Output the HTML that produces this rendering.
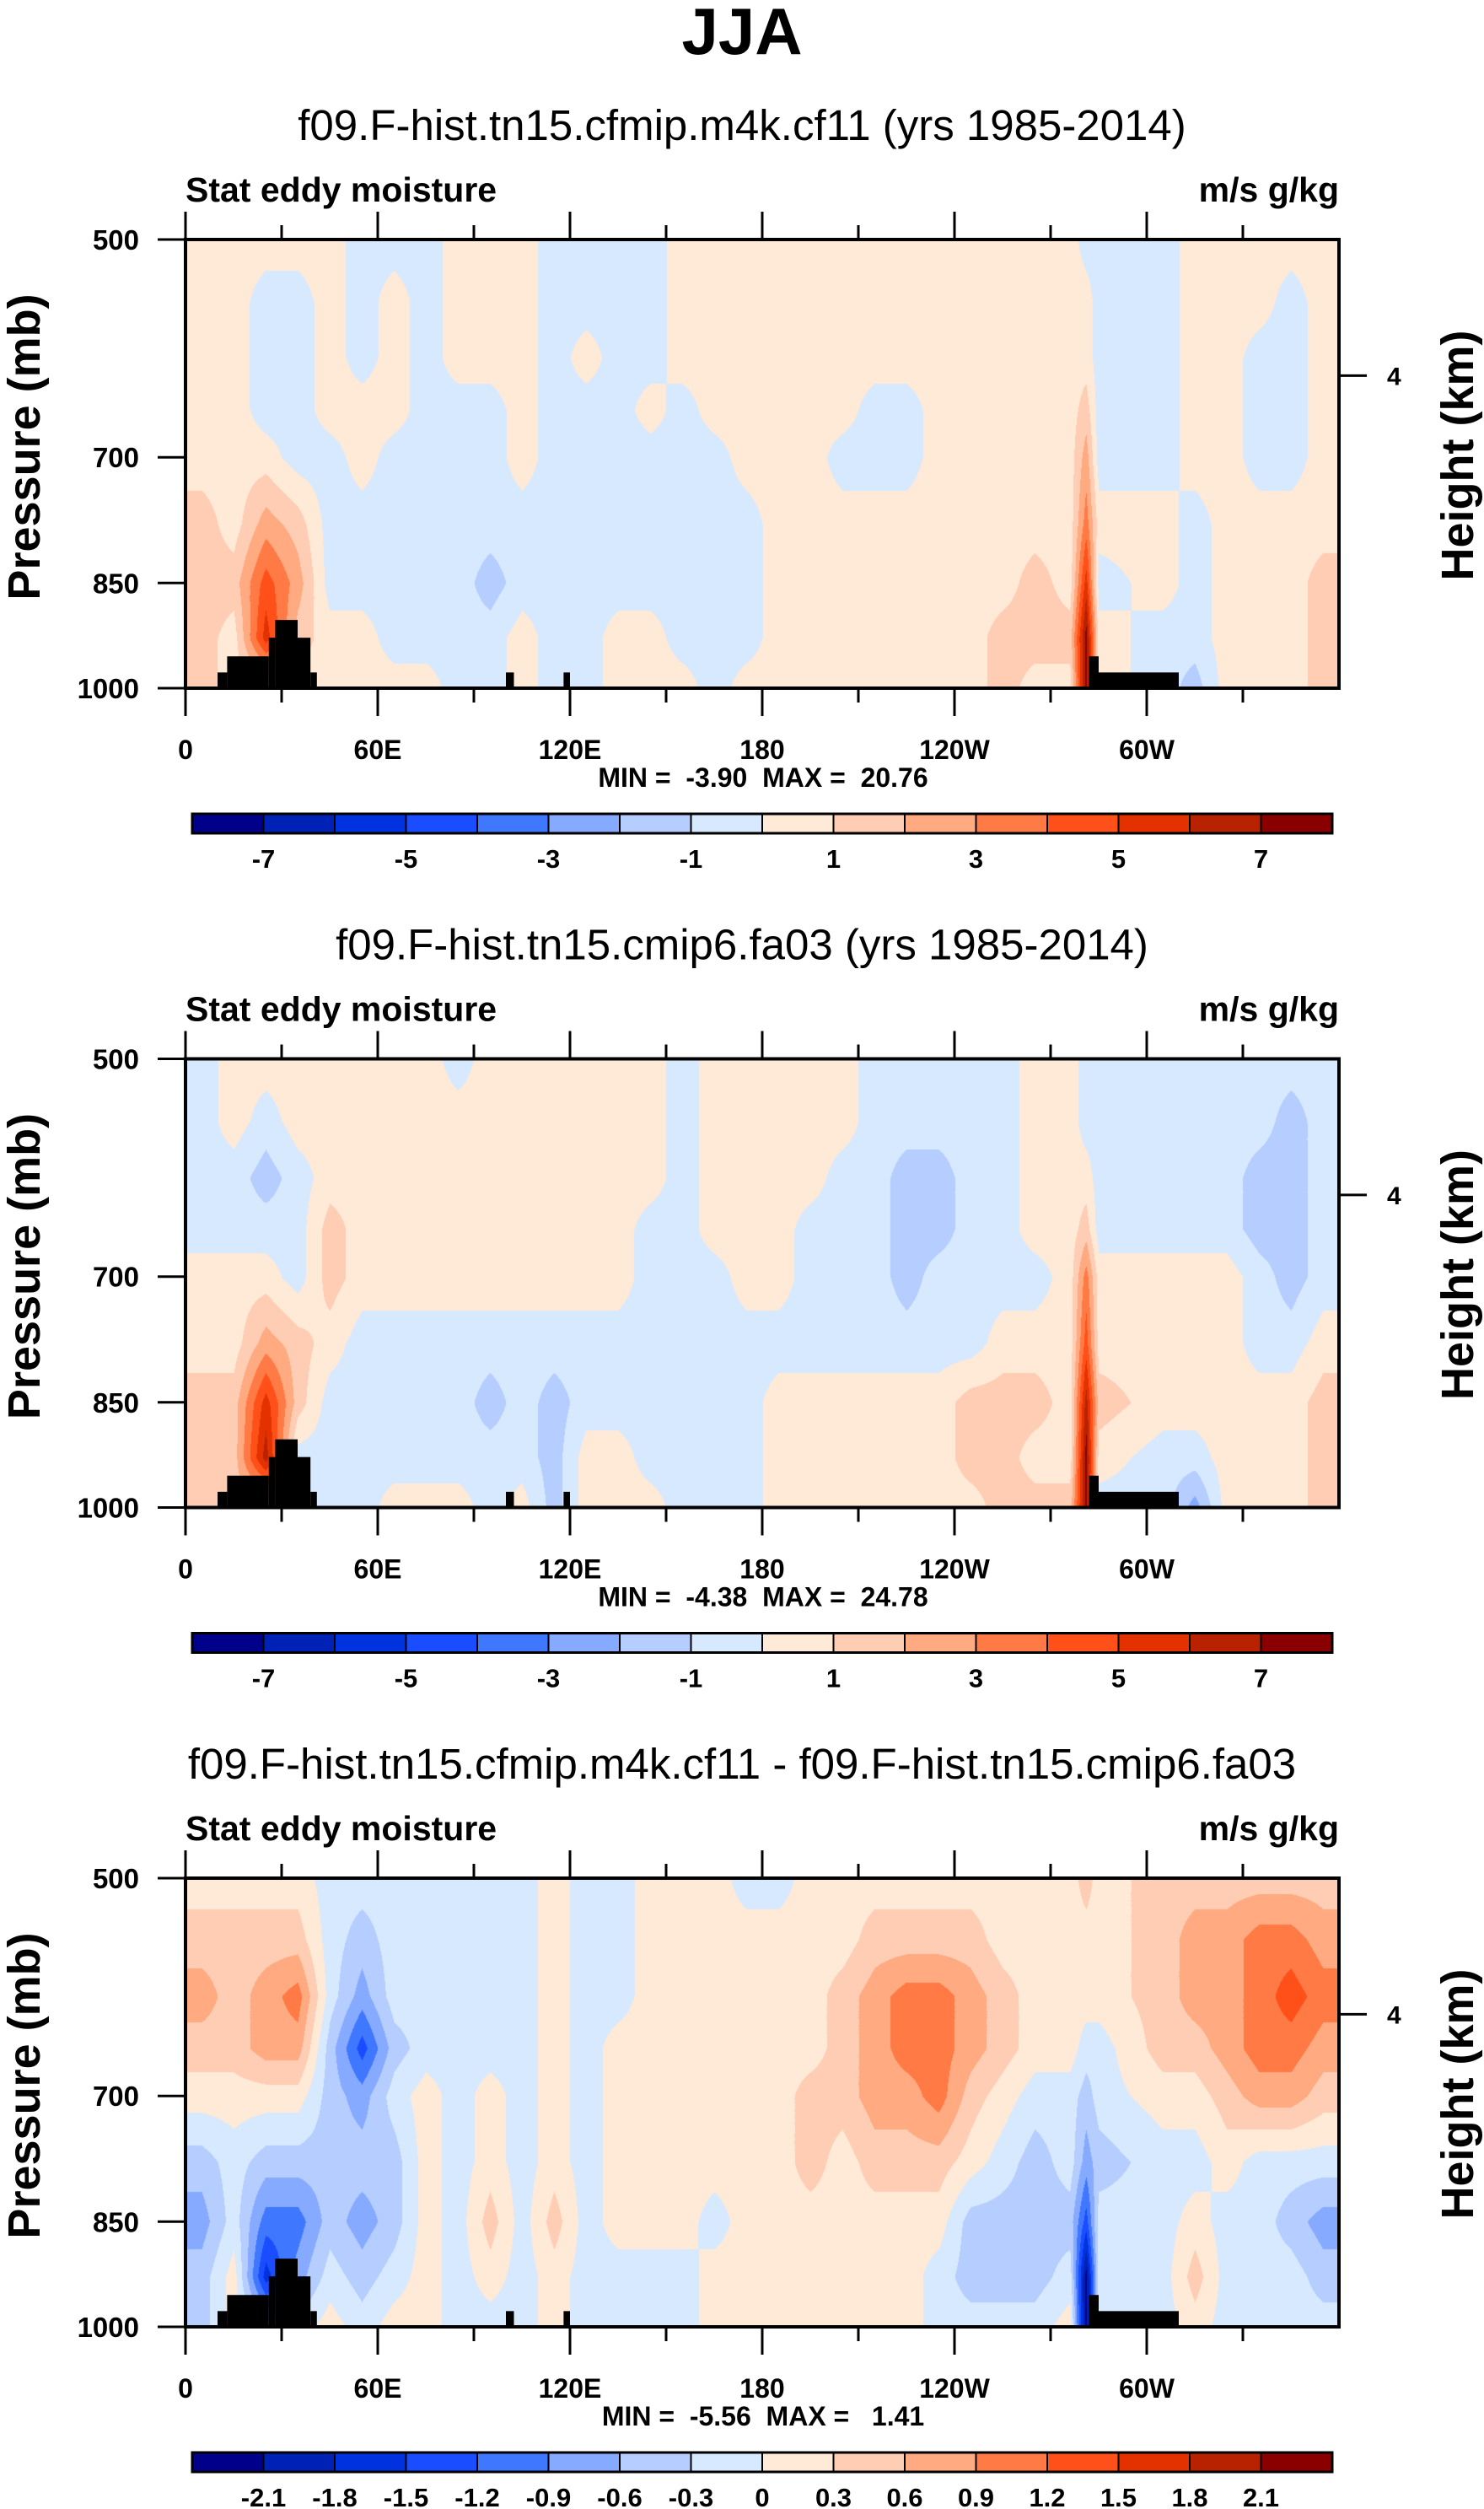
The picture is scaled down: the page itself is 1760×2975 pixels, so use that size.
<!DOCTYPE html>
<html><head><meta charset="utf-8">
<style>
html,body{margin:0;padding:0;background:#fff;}
body{width:1760px;height:2975px;position:relative;overflow:hidden;font-family:"Liberation Sans",Arial,sans-serif;}
canvas{position:absolute;}
svg{position:absolute;left:0;top:0;}
</style></head>
<body>
<svg id="ov" width="1760" height="2975"></svg>
<script>
// ---- data ----
const plevs=[500,550,600,650,700,775,850,925,1000];
const lonCols=[5,15,25,35,45,55,65,75,85,95,105,115,125,135,145,155,165,175,185,195,205,215,225,235,245,255,265,276,281,285,305,315,325,335,345,355];
const xTickLabels=["0","60E","120E","180","120W","60W"];
const xTickLons=[0,60,120,180,240,300];
const yTickLabels=["500","700","850","1000"];
const yTickP=[500,700,850,1000];
const heightTickLabel=["4"];
const heightTickP=[617];
const levels1=[-7,-6,-5,-4,-3,-2,-1,0,1,2,3,4,5,6,7];
const levels1Labels=["-7","","-5","","-3","","-1","","1","","3","","5","","7"];
const levels3=[-2.1,-1.8,-1.5,-1.2,-0.9,-0.6,-0.3,0,0.3,0.6,0.9,1.2,1.5,1.8,2.1];
const levels3Labels=["-2.1","-1.8","-1.5","-1.2","-0.9","-0.6","-0.3","0","0.3","0.6","0.9","1.2","1.5","1.8","2.1"];
const palette=["#00008a","#0021b5","#0033e0","#1a4dff","#4077ff","#85aaff","#b5cdff","#d7e9fe","#ffe9d7","#fecdb3","#ffaa80","#ff7a45","#ff5019","#e33200","#b92200","#8a0000"];
const topoLon0=[10,13,26,28,35,39,100,118,282,282];
const topoLon1=[13,26,28,35,39,41,102.5,120,285,310];
const topoP=[976,952,925,900,925,976,976,976,952,976];
// field columns (at lonCols), values top(500mb)->bottom(1000mb)
const fieldM4k=[
[.5,.5,.5,.5,.5,1.5,1.5,1.5,1.5],[.5,.5,.5,.5,.5,.5,1.5,.5,.5],[.5,-.5,-.5,-.5,.5,2.5,4.5,5.5,.5],[.5,-.5,-.5,-.5,-.5,1.5,2.5,1.5,.5],
[.5,.5,.5,.5,-.5,-.5,-.5,.5,.5],[-.5,-.5,-.5,.5,.5,-.5,-.5,.5,.5],[-.5,.5,.5,.5,-.5,-.5,-.5,-.5,.5],[-.5,-.5,-.5,-.5,-.5,-.5,-.5,-.5,.5],
[.5,.5,.5,-.5,-.5,-.5,-.5,-.5,-.5],[.5,.5,.5,-.5,-.5,-.5,-1.5,-.5,-.5],[.5,.5,.5,.5,.5,-.5,-.5,.5,.5],[-.5,-.5,-.5,-.5,-.5,-.5,-.5,-.5,-.5],
[-.5,-.5,.5,-.5,-.5,-.5,-.5,-.5,-.5],[-.5,-.5,-.5,-.5,-.5,-.5,-.5,.5,.5],[-.5,-.5,-.5,.5,-.5,-.5,-.5,.5,.5],[.5,.5,.5,-.5,-.5,-.5,-.5,-.5,.5],
[.5,.5,.5,.5,-.5,-.5,-.5,-.5,-.5],[.5,.5,.5,.5,.5,-.5,-.5,-.5,.5],[.5,.5,.5,.5,.5,.5,.5,.5,.5],[.5,.5,.5,.5,.5,.5,.5,.5,.5],
[.5,.5,.5,.5,-.5,.5,.5,.5,.5],[.5,.5,.5,-.5,-.5,.5,.5,.5,.5],[.5,.5,.5,-.5,-.5,.5,.5,.5,.5],[.5,.5,.5,.5,.5,.5,.5,.5,.5],
[.5,.5,.5,.5,.5,.5,.5,.5,.5],[.5,.5,.5,.5,.5,.5,.5,1.5,1.5],[.5,.5,.5,.5,.5,.5,1.5,1.5,.5],[.5,.5,.5,.5,.5,.5,.5,1.5,.5],
[-.5,.5,.5,1.5,2.5,3.5,5.5,7.5,7.5],[-.5,-.5,-.5,-.5,-.5,.5,-.5,.5,.5],[-.5,-.5,-.5,-.5,-.5,.5,.5,-.5,-.5],[.5,.5,.5,.5,.5,-.5,-.5,-.5,-1.5],
[.5,.5,.5,.5,.5,.5,.5,.5,.5],[.5,.5,-.5,-.5,-.5,.5,.5,.5,.5],[.5,-.5,-.5,-.5,-.5,.5,.5,.5,.5],[.5,.5,.5,.5,.5,.5,1.5,1.5,1.5]];
const fieldCmip6=[
[-.5,-.5,-.5,-.5,.5,.5,1.5,1.5,1.5],[.5,.5,-.5,-.5,.5,.5,1.5,1.5,1.5],[.5,-.5,-1.5,-.5,.5,2.5,5.5,6.5,.5],[.5,.5,-.5,-.5,-.5,1.5,1.5,-.5,.5],
[.5,.5,.5,1.5,1.5,.5,-.5,-.5,-.5],[.5,.5,.5,.5,.5,-.5,-.5,-.5,-.5],[.5,.5,.5,.5,.5,-.5,-.5,-.5,.5],[.5,.5,.5,.5,.5,-.5,-.5,-.5,.5],
[-.5,.5,.5,.5,.5,-.5,-.5,-.5,.5],[.5,.5,.5,.5,.5,-.5,-1.5,-.5,-.5],[.5,.5,.5,.5,.5,-.5,-.5,-.5,.5],[.5,.5,.5,.5,.5,-.5,-1.5,-1.5,-1.5],
[.5,.5,.5,.5,.5,-.5,-.5,.5,.5],[.5,.5,.5,.5,.5,-.5,-.5,.5,.5],[.5,.5,.5,-.5,-.5,-.5,-.5,-.5,.5],[-.5,-.5,-.5,-.5,-.5,-.5,-.5,-.5,-.5],
[.5,.5,.5,.5,-.5,-.5,-.5,-.5,-.5],[.5,.5,.5,.5,.5,-.5,-.5,-.5,-.5],[.5,.5,.5,.5,.5,-.5,.5,.5,.5],[.5,.5,.5,-.5,-.5,-.5,.5,.5,.5],
[.5,.5,-.5,-.5,-.5,-.5,.5,.5,.5],[-.5,-.5,-.5,-.5,-.5,-.5,.5,.5,.5],[-.5,-.5,-1.5,-1.5,-1.5,-.5,.5,.5,.5],[-.5,-.5,-1.5,-1.5,-.5,-.5,.5,.5,.5],
[-.5,-.5,-.5,-.5,-.5,-.5,1.5,1.5,.5],[-.5,-.5,-.5,-.5,-.5,.5,1.5,1.5,1.5],[.5,.5,.5,.5,-.5,.5,1.5,.5,1.5],[.5,.5,.5,.5,.5,.5,.5,.5,1.5],
[-.5,-.5,.5,1.5,3.5,4.5,6.5,7.5,7.5],[-.5,-.5,-.5,-.5,.5,.5,1.5,.5,-.5],[-.5,-.5,-.5,-.5,.5,.5,.5,-.5,-.5],[-.5,-.5,-.5,-.5,.5,.5,.5,-.5,-2.5],
[-.5,-.5,-.5,-.5,.5,.5,.5,.5,.5],[-.5,-.5,-1.5,-1.5,-.5,-.5,.5,.5,.5],[-.5,-1.5,-1.5,-1.5,-1.5,-.5,.5,.5,.5],[-.5,-.5,-.5,-.5,-.5,.5,1.5,1.5,1.5]];
const fieldDiff=[
[.15,.45,.75,.45,.15,-.45,-.75,-.45,-.45],[.15,.45,.45,.45,.15,-.15,-.15,.15,.15],[.15,.45,.75,.75,.15,-.45,-1.05,-1.65,-.45],[.15,.45,1.05,.75,.15,-.45,-1.05,-.75,-.15],
[-.15,-.15,-.15,-.45,-.45,-.45,-.45,-.15,.15],[-.15,-.45,-.75,-1.35,-.75,-.45,-.75,-.45,-.15],[-.15,-.15,-.15,-.45,-.15,-.45,-.45,-.15,.15],[-.15,-.15,-.15,-.15,.15,.15,.15,.15,.15],
[-.15,-.15,-.15,-.15,-.15,-.15,-.15,-.15,-.15],[-.15,-.15,-.15,-.15,.15,.15,.45,.15,-.15],[-.15,-.15,-.15,-.15,-.15,-.15,-.15,-.15,-.15],[.15,.15,.15,.15,.15,.15,.45,.15,.15],
[-.15,-.15,-.15,-.15,-.15,-.15,-.15,-.15,-.15],[-.15,-.15,-.15,.15,.15,.15,.15,-.15,-.15],[.15,.15,.15,.15,.15,.15,.15,-.15,-.15],[.15,.15,.15,.15,.15,.15,.15,-.15,-.15],
[.15,.15,.15,.15,.15,.15,-.15,.15,.15],[-.15,.15,.15,.15,.15,.15,.15,.15,.15],[-.15,.15,.15,.15,.15,.15,.15,.15,.15],[.15,.15,.15,.15,.45,.45,.15,.15,.15],
[.15,.15,.45,.45,.45,.15,.15,.15,.15],[.15,.45,.75,.75,.75,.45,.15,.15,.15],[.15,.45,1.05,1.05,.75,.45,.15,.15,.15],[.15,.45,1.05,1.05,1.05,.45,.15,-.15,-.15],
[.15,.45,.75,.75,.45,.15,-.45,-.45,-.15],[.15,.15,.45,.45,.15,-.15,-.45,-.45,-.15],[.15,.15,.15,.15,-.15,-.45,-.45,-.45,-.15],[.15,.15,.15,.15,-.15,-.15,-.45,-.15,.15],
[.45,.15,.15,-.15,-.45,-.75,-1.35,-2.25,-2.25],[.15,.15,.15,-.15,-.15,-.45,-.15,-.15,-.15],[.45,.45,.45,.45,.15,-.15,-.15,-.15,-.15],[.45,.75,.75,.45,.15,-.15,.15,.45,.15],
[.45,.75,.75,.75,.45,.15,-.15,-.15,-.15],[.45,1.05,1.05,1.05,.75,-.15,-.15,-.15,-.15],[.45,1.05,1.35,1.05,.75,-.15,-.45,-.15,-.15],[.45,.75,1.05,.75,.45,-.15,-.75,-.45,-.15]];
const panelTitles=["f09.F-hist.tn15.cfmip.m4k.cf11 (yrs 1985-2014)","f09.F-hist.tn15.cmip6.fa03 (yrs 1985-2014)","f09.F-hist.tn15.cfmip.m4k.cf11 - f09.F-hist.tn15.cmip6.fa03"];
const panelMinMax=["MIN =  -3.90  MAX =  20.76","MIN =  -4.38  MAX =  24.78","MIN =  -5.56  MAX =   1.41"];

// ---- layout ----
const L=220,R=1588,W=R-L,H=532,PSTEP=971.5,T0=284;
const NS="http://www.w3.org/2000/svg";
const ov=document.getElementById('ov');
function xOf(lon){return L+W*lon/360;}
function fracP(p){return Math.log(p/500)/Math.log(2);}
function el(tag,attrs,parent){const e=document.createElementNS(NS,tag);for(const k in attrs)e.setAttribute(k,attrs[k]);(parent||ov).appendChild(e);return e;}
function txt(s,x,y,size,weight,anchor,parent){const t=el('text',{x:x,y:y,'font-size':size,'font-weight':weight,'text-anchor':anchor,'font-family':'Liberation Sans, Arial, sans-serif',fill:'#000'},parent);t.setAttribute('xml:space','preserve');t.style.whiteSpace='pre';t.textContent=s;return t;}
function hex(c){return [parseInt(c.substr(1,2),16),parseInt(c.substr(3,2),16),parseInt(c.substr(5,2),16)];}
const pal=palette.map(hex);
const lf=plevs.map(fracP);

const ttl=txt("JJA",880,64,78,'bold','middle');



function sample(field,lon,fr){
  const n=lonCols.length;
  let i0,t;
  if(lon<=lonCols[0]){i0=0;t=0;}
  else if(lon>=lonCols[n-1]){i0=n-2;t=1;}
  else{i0=0;while(lon>lonCols[i0+1])i0++;t=(lon-lonCols[i0])/(lonCols[i0+1]-lonCols[i0]);}
  let j=0; while(j<7&&fr>lf[j+1])j++;
  const u=Math.max(0,Math.min(1,(fr-lf[j])/(lf[j+1]-lf[j])));
  const a=field[i0][j]*(1-u)+field[i0][j+1]*u;
  const b=field[i0+1][j]*(1-u)+field[i0+1][j+1]*u;
  return a*(1-t)+b*t;
}

function drawPanel(k,field,levels,labels){
  const top=T0+k*PSTEP;
  const g=el('g',{});
  
  
  const cv=document.createElement('canvas');
  cv.width=W;cv.height=H;cv.style.left=L+'px';cv.style.top=top+'px';
  
  
  document.body.insertBefore(cv,ov);
  const ctx=cv.getContext('2d');const img=ctx.createImageData(W,H);
  for(let y=0;y<H;y++){const fr=y/H;
    for(let x=0;x<W;x++){const v=sample(field,x/W*360,fr);
      let b=0;while(b<levels.length&&v>levels[b])b++;
      const c=pal[b],o=(y*W+x)*4;img.data[o]=c[0];img.data[o+1]=c[1];img.data[o+2]=c[2];img.data[o+3]=255;}}
  ctx.putImageData(img,0,0);
  for(let i=0;i<topoP.length;i++){
    const y0=top+H*fracP(topoP[i]);
    const r=el('rect',{x:xOf(topoLon0[i]),y:y0,width:xOf(topoLon1[i])-xOf(topoLon0[i]),height:top+H-y0,fill:'#000'},g);
    
    
  }
  const fr=el('rect',{x:L,y:top,width:W,height:H,fill:'none',stroke:'#000','stroke-width':4},g);
  
  
  for(let lon=0;lon<360;lon+=30){
    const major=lon%60===0,len=major?33:17,x=xOf(lon);
    el('line',{x1:x,y1:top,x2:x,y2:top-len,stroke:'#000','stroke-width':3},g);
    el('line',{x1:x,y1:top+H,x2:x,y2:top+H+len,stroke:'#000','stroke-width':3},g);
  }
  for(let i=0;i<xTickLons.length;i++){
    const t=txt(xTickLabels[i],xOf(xTickLons[i]),top+H+84,32,'bold','middle',g);
    
    
  }
  for(let i=0;i<yTickP.length;i++){
    const y=top+H*fracP(yTickP[i]);
    el('line',{x1:L-33,y1:y,x2:L,y2:y,stroke:'#000','stroke-width':3},g);
    const t=txt(yTickLabels[i],165,y+12,33,'bold','end',g);
    
    
  }
  for(let i=0;i<heightTickP.length;i++){
    const y=top+H*fracP(heightTickP[i]);
    el('line',{x1:R,y1:y,x2:R+33,y2:y,stroke:'#000','stroke-width':3},g);
    const t=txt(heightTickLabel[i],1645,y+11,30,'bold','start',g);
    
    
  }
  const yt=txt("Pressure (mb)",0,0,54,'bold','middle',g);
  yt.setAttribute('transform','translate(47,'+(top+H/2-20)+') rotate(-90)');
  
  
  const ht=txt("Height (km)",0,0,54,'bold','middle',g);
  ht.setAttribute('transform','translate(1747,'+(top+H/2-10)+') rotate(-90)');
  
  
  const st=txt(panelTitles[k],880,top-118,51,'normal','middle',g);
  
  
  const lt=txt("Stat eddy moisture",L,top-45,41,'bold','start',g);
  
  
  const rt=txt("m/s g/kg",R,top-45,41,'bold','end',g);
  
  
  const mm=txt(panelMinMax[k],905,top+H+117,32,'bold','middle',g);
  
  
  const cb=el('g',{},g);
  
  
  const cx0=228,cx1=1580,cy=top+681,ch=23,bw=(cx1-cx0)/palette.length;
  for(let i=0;i<palette.length;i++){
    const r=el('rect',{x:cx0+i*bw,y:cy,width:bw,height:ch,fill:palette[i],stroke:'#000','stroke-width':2},cb);
    
    
  }
  el('rect',{x:cx0,y:cy,width:cx1-cx0,height:ch,fill:'none',stroke:'#000','stroke-width':3},cb);
  for(let i=0;i<levels.length;i++){
    if(!labels[i])continue;
    const t=txt(labels[i],cx0+(i+1)*bw,cy+ch+41,31,'bold','middle',cb);
    
    
  }
}
drawPanel(0,fieldM4k,levels1,levels1Labels);
drawPanel(1,fieldCmip6,levels1,levels1Labels);
drawPanel(2,fieldDiff,levels3,levels3Labels);
</script>
</body></html>
